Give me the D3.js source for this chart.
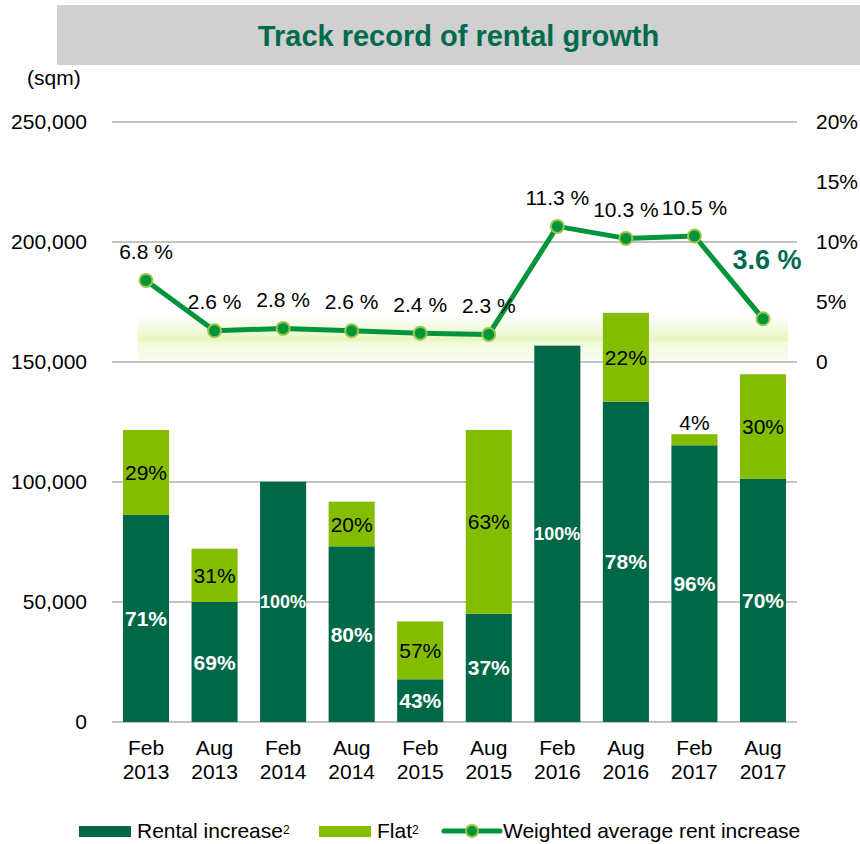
<!DOCTYPE html>
<html>
<head>
<meta charset="utf-8">
<script src="https://cdn.jsdelivr.net/npm/d3@7"></script>
<style>
  body { margin: 0; background: #ffffff; }
  text { font-family: "Liberation Sans", Arial, sans-serif; }
</style>
</head>
<body>
<div class="chart"></div>
<script>
//Chart data.
var periods = ["Feb 2013", "Aug 2013", "Feb 2014", "Aug 2014", "Feb 2015", "Aug 2015", "Feb 2016", "Aug 2016", "Feb 2017", "Aug 2017"];
var rentalIncrease = [86300, 50000, 100100, 73200, 17800, 45100, 156800, 133500, 115300, 101300];
var flat = [35400, 22200, 0, 18600, 24100, 76600, 0, 37000, 4600, 43600];
var rentalShare = ["71%", "69%", "100%", "80%", "43%", "37%", "100%", "78%", "96%", "70%"];
var flatShare = ["29%", "31%", "", "20%", "57%", "63%", "", "22%", "4%", "30%"];
var rentGrowth = [6.8, 2.6, 2.8, 2.6, 2.4, 2.3, 11.3, 10.3, 10.5, 3.6];
var leftTicks = [0, 50000, 100000, 150000, 200000, 250000];
var rightTicks = [0, 5, 10, 15, 20];

//Colours.
var darkGreen = "#006747";
var lightGreen = "#84bd00";
var lineGreen = "#00953b";
var titleGreen = "#006a4e";

//Define the SVG area dimensions.
var svgWidth = 860;
var svgHeight = 844;

var margin = {
  top: 122,
  right: 63,
  bottom: 122,
  left: 112
};

var chartWidth = svgWidth - margin.left - margin.right;
var chartHeight = svgHeight - margin.top - margin.bottom;

var svg = d3.select(".chart")
  .append("svg")
  .attr("width", svgWidth)
  .attr("height", svgHeight);

//Title box.
svg.append("rect")
  .attr("x", 57)
  .attr("y", 5)
  .attr("width", svgWidth - 57)
  .attr("height", 60)
  .attr("fill", "#d0d0d0");

svg.append("text")
  .attr("x", 458.5)
  .attr("y", 46)
  .attr("text-anchor", "middle")
  .attr("font-size", "29px")
  .attr("font-weight", "bold")
  .attr("fill", titleGreen)
  .text("Track record of rental growth");

svg.append("text")
  .attr("x", 27)
  .attr("y", 85)
  .attr("font-size", "21px")
  .attr("fill", "#000")
  .text("(sqm)");

var chart = svg.append("g")
  .attr("transform", "translate(" + margin.left + "," + margin.top + ")");

//Scales.
var xBandScale = d3.scaleBand()
  .domain(periods)
  .range([0, chartWidth])
  .paddingInner(0.328)
  .paddingOuter(0.16);

var yLinearScale = d3.scaleLinear()
  .domain([0, 250000])
  .range([chartHeight, 0]);

var yRightScale = d3.scaleLinear()
  .domain([0, 20])
  .range([yLinearScale(150000), 0]);

//Gridlines.
chart.append("g")
  .selectAll("line")
  .data(leftTicks)
  .enter().append("line")
    .attr("x1", 0)
    .attr("x2", chartWidth)
    .attr("y1", function(d) { return yLinearScale(d); })
    .attr("y2", function(d) { return yLinearScale(d); })
    .attr("stroke", "#c4c4c4")
    .attr("stroke-width", 2);

//Left axis.
var leftAxis = d3.axisLeft(yLinearScale)
  .tickValues(leftTicks)
  .tickFormat(d3.format(","))
  .tickSize(0)
  .tickPadding(25);

var leftG = chart.append("g").call(leftAxis);
leftG.select(".domain").remove();
leftG.selectAll("text")
  .attr("font-size", "21px")
  .attr("font-family", "Liberation Sans, Arial, sans-serif")
  .attr("fill", "#000");

//Right axis.
var rightAxis = d3.axisRight(yRightScale)
  .tickValues(rightTicks)
  .tickFormat(function(d) { return d === 0 ? "0" : d + "%"; })
  .tickSize(0)
  .tickPadding(19);

var rightG = chart.append("g")
  .attr("transform", "translate(" + chartWidth + ",0)")
  .call(rightAxis);
rightG.select(".domain").remove();
rightG.selectAll("text")
  .attr("font-size", "21px")
  .attr("font-family", "Liberation Sans, Arial, sans-serif")
  .attr("fill", "#000");

//Bottom axis with two-line period labels.
var bottomAxis = d3.axisBottom(xBandScale).tickSize(0).tickFormat("");
var bottomG = chart.append("g")
  .attr("transform", "translate(0," + chartHeight + ")")
  .call(bottomAxis);
bottomG.select(".domain").remove();

bottomG.selectAll(".tick")
  .append("text")
  .attr("text-anchor", "middle")
  .attr("font-size", "21px")
  .attr("fill", "#000")
  .selectAll("tspan")
  .data(function(d) { return d.split(" "); })
  .enter().append("tspan")
    .attr("x", 0)
    .attr("y", function(d, i) { return 33 + i * 24; })
    .text(function(d) { return d; });

//Light green band behind the line.
var defs = svg.append("defs");
var grad = defs.append("linearGradient")
  .attr("id", "band")
  .attr("x1", 0).attr("y1", 0)
  .attr("x2", 0).attr("y2", 1);
grad.append("stop").attr("offset", "0%").attr("stop-color", "#ffffff");
grad.append("stop").attr("offset", "48%").attr("stop-color", "#eaf8c9");
grad.append("stop").attr("offset", "54%").attr("stop-color", "#e4f6bb");
grad.append("stop").attr("offset", "62%").attr("stop-color", "#f1fadb");
grad.append("stop").attr("offset", "100%").attr("stop-color", "#f8fcee");

chart.append("rect")
  .attr("x", 26)
  .attr("y", yLinearScale(150000) - 47)
  .attr("width", chartWidth - 35)
  .attr("height", 45)
  .attr("fill", "url(#band)");

//Stacked bars.
var bars = chart.append("g")
  .selectAll("g")
  .data(periods)
  .enter().append("g");

bars.append("rect")
  .attr("x", function(d) { return xBandScale(d); })
  .attr("width", xBandScale.bandwidth())
  .attr("y", function(d, i) { return yLinearScale(rentalIncrease[i]); })
  .attr("height", function(d, i) { return chartHeight - yLinearScale(rentalIncrease[i]); })
  .attr("fill", darkGreen);

bars.filter(function(d, i) { return flat[i] > 0; })
  .append("rect")
  .attr("x", function(d) { return xBandScale(d); })
  .attr("width", xBandScale.bandwidth())
  .attr("y", function(d) { var i = periods.indexOf(d); return yLinearScale(rentalIncrease[i] + flat[i]); })
  .attr("height", function(d) { var i = periods.indexOf(d); return yLinearScale(rentalIncrease[i]) - yLinearScale(rentalIncrease[i] + flat[i]); })
  .attr("fill", lightGreen);

//Share labels inside the bars.
bars.append("text")
  .attr("x", function(d) { return xBandScale(d) + xBandScale.bandwidth() / 2; })
  .attr("y", function(d, i) { return (yLinearScale(rentalIncrease[i]) + chartHeight) / 2; })
  .attr("dy", "0.36em")
  .attr("text-anchor", "middle")
  .attr("font-weight", "bold")
  .attr("font-size", function(d, i) { return rentalShare[i].length > 3 ? "18px" : "21px"; })
  .attr("fill", "#fff")
  .text(function(d, i) { return rentalShare[i]; });

bars.append("text")
  .attr("x", function(d) { return xBandScale(d) + xBandScale.bandwidth() / 2; })
  .attr("y", function(d, i) {
    var top = yLinearScale(rentalIncrease[i] + flat[i]);
    var bottom = yLinearScale(rentalIncrease[i]);
    if (bottom - top < 25) return top - 12;
    return (top + bottom) / 2;
  })
  .attr("dy", "0.36em")
  .attr("text-anchor", "middle")
  .attr("font-size", "21px")
  .attr("fill", "#000")
  .text(function(d, i) { return flatShare[i]; });

//Weighted average rent increase line.
var line = d3.line()
  .x(function(d, i) { return xBandScale(periods[i]) + xBandScale.bandwidth() / 2; })
  .y(function(d) { return yRightScale(d); });

chart.append("path")
  .datum(rentGrowth)
  .attr("d", line)
  .attr("fill", "none")
  .attr("stroke", lineGreen)
  .attr("stroke-width", 5)
  .attr("stroke-linejoin", "round");

chart.append("g")
  .selectAll("circle")
  .data(rentGrowth)
  .enter().append("circle")
    .attr("cx", function(d, i) { return xBandScale(periods[i]) + xBandScale.bandwidth() / 2; })
    .attr("cy", function(d) { return yRightScale(d); })
    .attr("r", 6.5)
    .attr("fill", lineGreen)
    .attr("stroke", "#9cc54e")
    .attr("stroke-width", 2);

chart.append("g")
  .selectAll("text")
  .data(rentGrowth)
  .enter().append("text")
    .attr("x", function(d, i) { return xBandScale(periods[i]) + xBandScale.bandwidth() / 2 + (i === rentGrowth.length - 1 ? 4 : 0); })
    .attr("y", function(d, i) { return yRightScale(d) - (i === rentGrowth.length - 1 ? 60 : 29); })
    .attr("dy", "0.36em")
    .attr("text-anchor", "middle")
    .attr("font-size", function(d, i) { return i === rentGrowth.length - 1 ? "27px" : "21px"; })
    .attr("font-weight", function(d, i) { return i === rentGrowth.length - 1 ? "bold" : "normal"; })
    .attr("fill", function(d, i) { return i === rentGrowth.length - 1 ? titleGreen : "#000"; })
    .text(function(d) { return d.toFixed(1) + " %"; });

//Legend.
var legend = svg.append("g");

legend.append("rect")
  .attr("x", 79).attr("y", 826)
  .attr("width", 52).attr("height", 11)
  .attr("fill", darkGreen);

var t1 = legend.append("text")
  .attr("x", 137).attr("y", 838)
  .attr("font-size", "21px")
  .attr("fill", "#000");
t1.append("tspan").text("Rental increase");
t1.append("tspan").attr("font-size", "12px").attr("dy", "-4").text("2");

legend.append("rect")
  .attr("x", 319).attr("y", 826)
  .attr("width", 52).attr("height", 11)
  .attr("fill", lightGreen);

var t2 = legend.append("text")
  .attr("x", 377).attr("y", 838)
  .attr("font-size", "21px")
  .attr("fill", "#000");
t2.append("tspan").text("Flat");
t2.append("tspan").attr("font-size", "12px").attr("dy", "-4").text("2");

legend.append("line")
  .attr("x1", 444).attr("x2", 500)
  .attr("y1", 831).attr("y2", 831)
  .attr("stroke", lineGreen)
  .attr("stroke-width", 5)
  .attr("stroke-linecap", "round");

legend.append("circle")
  .attr("cx", 472).attr("cy", 831)
  .attr("r", 6)
  .attr("fill", lineGreen)
  .attr("stroke", "#9cc54e")
  .attr("stroke-width", 2);

legend.append("text")
  .attr("x", 503).attr("y", 838)
  .attr("font-size", "21px")
  .attr("fill", "#000")
  .text("Weighted average rent increase");
</script>
</body>
</html>
